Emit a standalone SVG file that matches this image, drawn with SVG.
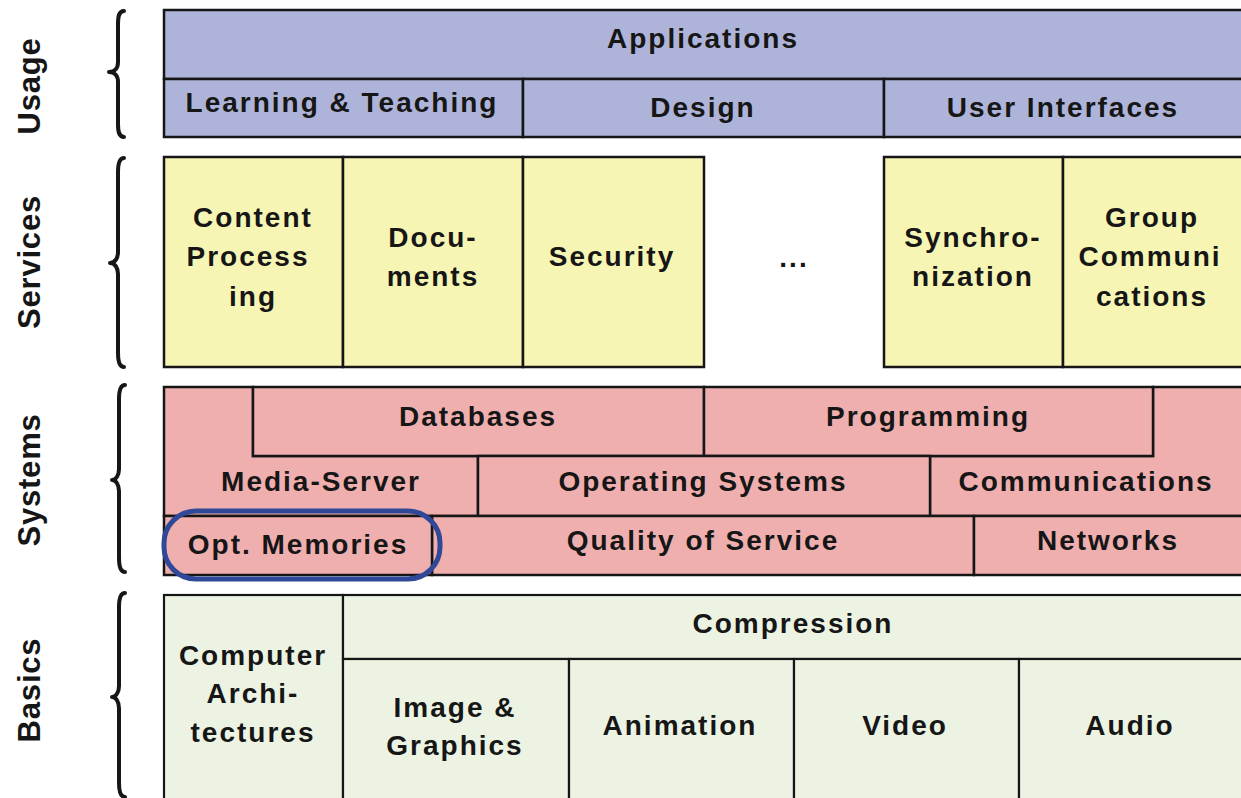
<svg xmlns="http://www.w3.org/2000/svg" width="1241" height="798" viewBox="0 0 1241 798">
<style>
.u{fill:#aeb4d9;stroke:#161616;stroke-width:2.5}
.s{fill:#f7f5b4;stroke:#161616;stroke-width:2.5}
.y{fill:#f0afaf;stroke:#161616;stroke-width:2.5}
.b{fill:#ecf3e3;stroke:#161616;stroke-width:2.2}
.t{font-family:"Liberation Sans",Arial,sans-serif;font-weight:bold;font-size:28px;letter-spacing:2px;fill:#161616;text-anchor:middle}
.side{font-family:"Liberation Sans",Arial,sans-serif;font-weight:bold;font-size:31px;letter-spacing:0.8px;fill:#161616;text-anchor:middle}
.br{fill:none;stroke:#161616;stroke-width:4;stroke-linecap:round;stroke-linejoin:round}
</style>
<rect width="1241" height="798" fill="#ffffff"/>

<g id="layer-labels">
<text class="side" transform="translate(40,86) rotate(-90)">Usage</text>
<text class="side" transform="translate(40,262) rotate(-90)">Services</text>
<text class="side" transform="translate(40,480) rotate(-90)">Systems</text>
<text class="side" transform="translate(40,690) rotate(-90)">Basics</text>
</g>

<g id="brackets">
<path class="br" d="M124 11 C119 11 118 16 118 24 L118 62 C118 68 115 72 109 72 C115 72 118 76 118 82 L118 124 C118 132 119 137 124 137"/>
<path class="br" d="M124 158 C119 158 118 164 118 172 L118 252 C118 258 115 263 110 263 C115 263 118 268 118 274 L118 353 C118 361 119 367 124 367"/>
<path class="br" d="M125 385 C120 385 119 391 119 399 L119 469 C119 475 116 480 112 480 C116 480 119 485 119 491 L119 558 C119 566 120 572 125 572"/>
<path class="br" d="M125 593 C120 593 119 599 119 607 L119 686 C119 692 116 697 112 697 C116 697 119 702 119 708 L119 783 C119 791 120 797 125 797"/>
</g>

<g id="connectors"></g>

<!-- Usage -->
<g id="applications"><rect class="u" x="164" y="10" width="1080" height="69"/><text class="t" x="703" y="48">Applications</text></g>
<g id="learning-teaching"><rect class="u" x="164" y="79" width="359" height="58"/><text class="t" x="342" y="112">Learning &amp; Teaching</text></g>
<g id="design"><rect class="u" x="523" y="79" width="361" height="58"/><text class="t" x="703" y="117">Design</text></g>
<g id="user-interfaces"><rect class="u" x="884" y="79" width="360" height="58"/><text class="t" x="1063" y="117">User Interfaces</text></g>

<!-- Services -->
<g id="content-processing"><rect class="s" x="164" y="157" width="179" height="210"/><text class="t" x="253" y="227">Content</text><text class="t" x="248" y="266">Process</text><text class="t" x="253" y="306">ing</text></g>
<g id="documents"><rect class="s" x="343" y="157" width="180" height="210"/><text class="t" x="433" y="247">Docu-</text><text class="t" x="433" y="286">ments</text></g>
<g id="security"><rect class="s" x="523" y="157" width="181" height="210"/><text class="t" x="612" y="266">Security</text></g>
<g id="ellipsis"><text class="t" x="794" y="267">...</text></g>
<g id="synchronization"><rect class="s" x="884" y="157" width="179" height="210"/><text class="t" x="973" y="247">Synchro-</text><text class="t" x="973" y="286">nization</text></g>
<g id="group-communications"><rect class="s" x="1063" y="157" width="181" height="210"/><text class="t" x="1152" y="227">Group</text><text class="t" x="1150" y="266">Communi</text><text class="t" x="1152" y="306">cations</text></g>

<!-- Systems -->
<g id="media-server"><path class="y" d="M164 387 L253 387 L253 456 L478 456 L478 516 L164 516 Z"/><text class="t" x="321" y="491">Media-Server</text></g>
<g id="communications"><path class="y" d="M1153 387 L1244 387 L1244 516 L930 516 L930 456 L1153 456 Z"/><text class="t" x="1086" y="491">Communications</text></g>
<g id="databases"><rect class="y" x="253" y="387" width="451" height="69"/><text class="t" x="478" y="426">Databases</text></g>
<g id="programming"><rect class="y" x="704" y="387" width="449" height="69"/><text class="t" x="928" y="426">Programming</text></g>
<g id="operating-systems"><rect class="y" x="478" y="456" width="452" height="60"/><text class="t" x="703" y="491">Operating Systems</text></g>
<g id="quality-of-service"><rect class="y" x="432" y="516" width="542" height="59"/><text class="t" x="703" y="550">Quality of Service</text></g>
<g id="networks"><rect class="y" x="974" y="516" width="270" height="59"/><text class="t" x="1108" y="550">Networks</text></g>
<g id="opt-memories"><rect class="y" x="164" y="516" width="268" height="59"/><text class="t" x="298" y="554">Opt. Memories</text><rect x="164" y="511" width="276" height="68" rx="32" ry="32" fill="none" stroke="#2f4897" stroke-width="5"/></g>

<!-- Basics -->
<g id="computer-architectures"><rect class="b" x="164" y="595" width="179" height="206"/><text class="t" x="253" y="665">Computer</text><text class="t" x="253" y="703">Archi-</text><text class="t" x="253" y="742">tectures</text></g>
<g id="compression"><rect class="b" x="343" y="595" width="901" height="64"/><text class="t" x="793" y="633">Compression</text></g>
<g id="image-graphics"><rect class="b" x="343" y="659" width="226" height="142"/><text class="t" x="455" y="717">Image &amp;</text><text class="t" x="455" y="755">Graphics</text></g>
<g id="animation"><rect class="b" x="569" y="659" width="225" height="142"/><text class="t" x="680" y="735">Animation</text></g>
<g id="video"><rect class="b" x="794" y="659" width="225" height="142"/><text class="t" x="905" y="735">Video</text></g>
<g id="audio"><rect class="b" x="1019" y="659" width="225" height="142"/><text class="t" x="1130" y="735">Audio</text></g>
</svg>
